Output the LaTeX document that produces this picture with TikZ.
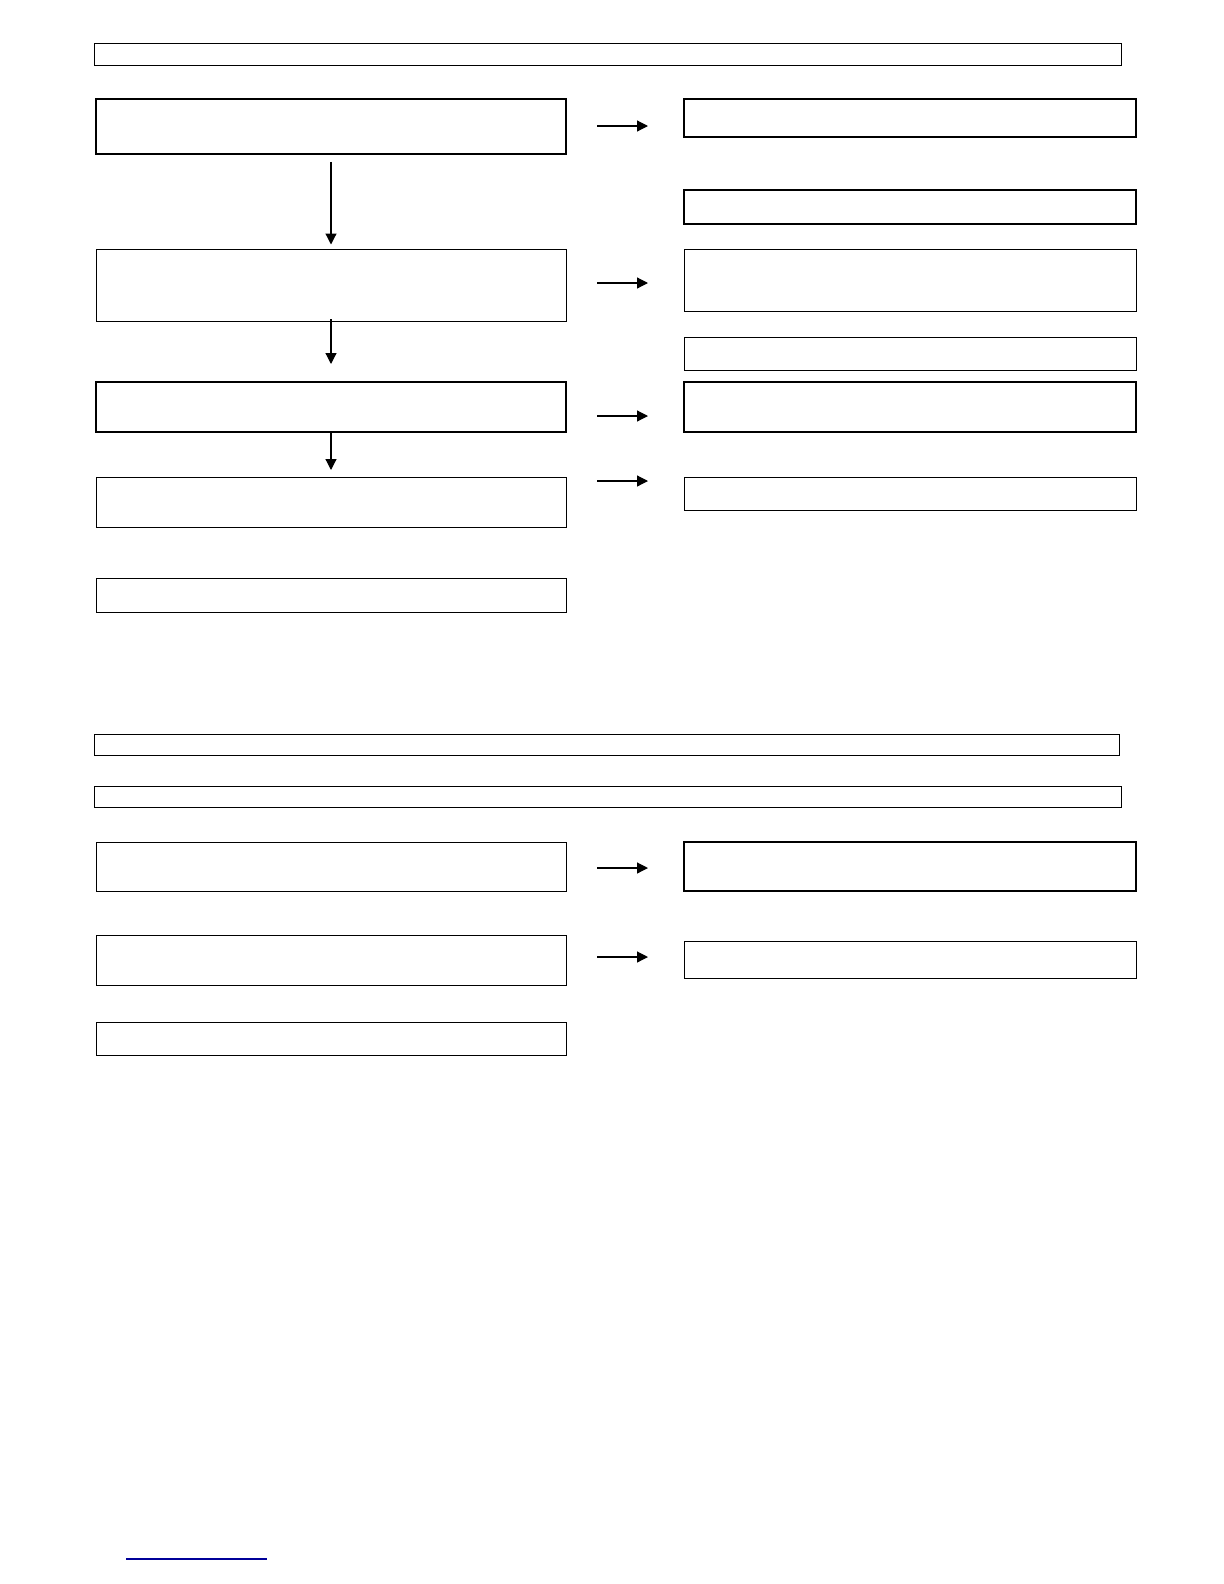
\documentclass[tikz,border=0pt]{standalone}
\usetikzlibrary{fit}
\usetikzlibrary{arrows.meta}

\tikzset{
    box/.style={draw,inner sep=0pt,line width=.5pt},
    boldbox/.style={box,line width=.9pt},
    flow/.style={-{Triangle[length=5.5bp,width=5.5bp]},line width=.6pt}
}

\begin{document}
\begin{tikzpicture}[x=0.5bp,y=-0.5bp]
    % headers
    \node[box,fit={(94,43) (1121,65)}] (headA) {};
    \node[box,fit={(94,734) (1119,755)}] (headB) {};
    \node[box,fit={(94,786) (1121,807)}] (headC) {};
    % left column, upper part
    \node[boldbox,fit={(96,99) (566,154)}] (stepA) {};
    \node[box,fit={(96,249) (566,321)}] (stepB) {};
    \node[boldbox,fit={(96,382) (566,432)}] (stepC) {};
    \node[box,fit={(96,477) (566,527)}] (stepD) {};
    \node[box,fit={(96,578) (566,612)}] (stepE) {};
    % right column, upper part
    \node[boldbox,fit={(684,99) (1136,137)}] (resA) {};
    \node[boldbox,fit={(684,190) (1136,224)}] (resB) {};
    \node[box,fit={(684,249) (1136,311)}] (resC) {};
    \node[box,fit={(684,337) (1136,370)}] (resD) {};
    \node[boldbox,fit={(684,382) (1136,432)}] (resE) {};
    \node[box,fit={(684,477) (1136,510)}] (resF) {};
    % lower part
    \node[box,fit={(96,842) (566,891)}] (stepF) {};
    \node[box,fit={(96,935) (566,985)}] (stepG) {};
    \node[box,fit={(96,1022) (566,1055)}] (stepH) {};
    \node[boldbox,fit={(684,842) (1136,891)}] (resG) {};
    \node[box,fit={(684,941) (1136,978)}] (resH) {};
    % down arrows
    \draw[flow,shorten <=3.5bp,shorten >=2bp] (stepA.south) -- (stepB.north);
    \draw[flow,shorten >=4.5bp] (331,319) -- (331,373) coordinate (tipB);
    \draw[flow] (stepC.south) -- (331,470) coordinate (tipC);
    % side arrows
    \foreach \y/\n in {126/a,283/b,416/c,481/d,868/e,957/f}
        \draw[flow] (597,\y) coordinate (from\n) -- (648,\y) coordinate (to\n);
    % footnote rule
    \draw[blue!60!black,line width=.6pt] (126,1559) coordinate (noteL) -- (267,1559) coordinate (noteR);
    % page frame
    \pgfresetboundingbox
    \useasboundingbox (0,0) rectangle (1224,1584);
\end{tikzpicture}
\end{document}
